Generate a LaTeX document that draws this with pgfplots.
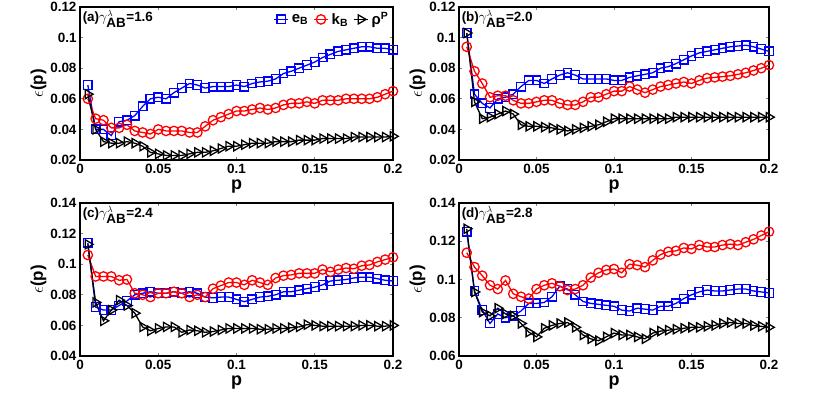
\documentclass[border=0pt]{standalone}
\usepackage{pgfplots}
\pgfplotsset{compat=1.18}
\usepackage{pgfplotstable}
\usepackage{fontspec}
\setmainfont{Liberation Sans}

\pgfplotstableread{
p e k r
0.005 0.069 0.060 0.063
0.010 0.040 0.047 0.040
0.015 0.040 0.046 0.032
0.020 0.036 0.041 0.031
0.025 0.045 0.041 0.031
0.030 0.046 0.043 0.032
0.035 0.049 0.039 0.031
0.040 0.055 0.038 0.029
0.045 0.060 0.037 0.025
0.050 0.061 0.040 0.024
0.055 0.060 0.039 0.023
0.060 0.064 0.039 0.023
0.065 0.067 0.039 0.023
0.070 0.070 0.038 0.024
0.075 0.069 0.038 0.025
0.080 0.067 0.042 0.025
0.085 0.068 0.046 0.026
0.090 0.068 0.048 0.0275
0.095 0.068 0.050 0.029
0.100 0.069 0.052 0.029
0.105 0.068 0.052 0.030
0.110 0.070 0.053 0.031
0.115 0.071 0.054 0.031
0.120 0.0715 0.053 0.031
0.125 0.073 0.054 0.032
0.130 0.0765 0.056 0.032
0.135 0.078 0.057 0.032
0.140 0.080 0.057 0.033
0.145 0.082 0.058 0.033
0.150 0.084 0.057 0.033
0.155 0.087 0.059 0.034
0.160 0.089 0.059 0.034
0.165 0.091 0.059 0.034
0.170 0.092 0.060 0.034
0.175 0.093 0.060 0.035
0.180 0.094 0.060 0.035
0.185 0.094 0.060 0.035
0.190 0.093 0.061 0.035
0.195 0.093 0.063 0.035
0.200 0.092 0.065 0.0355
}\dataA

\pgfplotstableread{
p e k r
0.005 0.103 0.094 0.103
0.010 0.063 0.078 0.058
0.015 0.057 0.070 0.047
0.020 0.054 0.061 0.048
0.025 0.060 0.062 0.050
0.030 0.061 0.062 0.052
0.035 0.063 0.059 0.050
0.040 0.068 0.057 0.043
0.045 0.072 0.057 0.042
0.050 0.072 0.058 0.042
0.055 0.070 0.059 0.0415
0.060 0.073 0.059 0.041
0.065 0.0755 0.057 0.040
0.070 0.077 0.056 0.039
0.075 0.0755 0.056 0.040
0.080 0.073 0.058 0.041
0.085 0.073 0.061 0.042
0.090 0.073 0.061 0.043
0.095 0.073 0.063 0.045
0.100 0.072 0.065 0.047
0.105 0.072 0.065 0.047
0.110 0.074 0.068 0.047
0.115 0.075 0.066 0.047
0.120 0.076 0.064 0.047
0.125 0.077 0.066 0.047
0.130 0.080 0.068 0.047
0.135 0.081 0.069 0.047
0.140 0.083 0.070 0.048
0.145 0.0855 0.071 0.048
0.150 0.088 0.070 0.048
0.155 0.090 0.072 0.048
0.160 0.091 0.0735 0.048
0.165 0.092 0.074 0.048
0.170 0.093 0.0745 0.048
0.175 0.094 0.075 0.048
0.180 0.0945 0.076 0.048
0.185 0.095 0.077 0.048
0.190 0.094 0.0785 0.048
0.195 0.0925 0.080 0.048
0.200 0.091 0.082 0.048
}\dataB

\pgfplotstableread{
p e k r
0.005 0.114 0.106 0.113
0.010 0.072 0.092 0.075
0.015 0.070 0.092 0.063
0.020 0.070 0.092 0.070
0.025 0.073 0.0895 0.0765
0.030 0.076 0.090 0.073
0.035 0.080 0.081 0.068
0.040 0.081 0.080 0.059
0.045 0.082 0.0785 0.0565
0.050 0.081 0.081 0.058
0.055 0.081 0.081 0.059
0.060 0.082 0.082 0.059
0.065 0.081 0.081 0.0555
0.070 0.082 0.0785 0.057
0.075 0.081 0.080 0.0565
0.080 0.0785 0.0785 0.0555
0.085 0.078 0.084 0.056
0.090 0.0785 0.086 0.057
0.095 0.0785 0.088 0.058
0.100 0.077 0.088 0.058
0.105 0.0755 0.0865 0.058
0.110 0.077 0.0895 0.058
0.115 0.0785 0.088 0.0575
0.120 0.079 0.0865 0.0575
0.125 0.080 0.091 0.058
0.130 0.082 0.0925 0.058
0.135 0.082 0.093 0.0585
0.140 0.083 0.094 0.059
0.145 0.084 0.094 0.0605
0.150 0.085 0.094 0.060
0.155 0.0865 0.0965 0.0595
0.160 0.089 0.095 0.0595
0.165 0.0895 0.0965 0.0595
0.170 0.090 0.0975 0.0595
0.175 0.091 0.097 0.0595
0.180 0.0915 0.099 0.060
0.185 0.0915 0.0995 0.060
0.190 0.0905 0.1015 0.0595
0.195 0.0895 0.103 0.0595
0.200 0.089 0.1045 0.060
}\dataC

\pgfplotstableread{
p e k r
0.005 0.125 0.114 0.1265
0.010 0.094 0.1065 0.0935
0.015 0.084 0.102 0.083
0.020 0.077 0.097 0.081
0.025 0.082 0.095 0.085
0.030 0.080 0.0995 0.082
0.035 0.081 0.0925 0.081
0.040 0.0835 0.091 0.077
0.045 0.0875 0.090 0.0725
0.050 0.0875 0.095 0.070
0.055 0.088 0.097 0.0745
0.060 0.091 0.098 0.076
0.065 0.0965 0.0965 0.077
0.070 0.095 0.0945 0.0775
0.075 0.092 0.095 0.075
0.080 0.0885 0.097 0.071
0.085 0.0875 0.101 0.069
0.090 0.087 0.1035 0.068
0.095 0.0865 0.105 0.070
0.100 0.086 0.1055 0.072
0.105 0.084 0.1035 0.071
0.110 0.0835 0.108 0.071
0.115 0.085 0.1075 0.070
0.120 0.0845 0.1065 0.069
0.125 0.084 0.110 0.072
0.130 0.086 0.113 0.073
0.135 0.086 0.1145 0.0735
0.140 0.0875 0.115 0.074
0.145 0.090 0.1165 0.0745
0.150 0.092 0.116 0.075
0.155 0.0935 0.118 0.075
0.160 0.0945 0.117 0.0755
0.165 0.094 0.117 0.076
0.170 0.094 0.118 0.077
0.175 0.0945 0.1185 0.0775
0.180 0.095 0.118 0.077
0.185 0.095 0.1195 0.077
0.190 0.094 0.121 0.076
0.195 0.0935 0.123 0.0755
0.200 0.093 0.125 0.075
}\dataD

\pgfplotsset{
  panel/.style={
    scale only axis, width=313bp, height=153bp, anchor=south west,
    xmin=0, xmax=0.2, xtick={0,0.05,0.1,0.15,0.2},
    axis line style={line width=1.3pt},
    tick align=inside, major tick length=3pt, tick style={line width=0.8pt},
    scaled ticks=false,
    /pgf/number format/assume math mode=true,
    ticklabel style={font=\fontsize{13.5}{13.5}\selectfont\bfseries,
      /pgf/number format/fixed, /pgf/number format/precision=2},
    xticklabel style={yshift=-1pt},
    xlabel={\textbf{p}}, xlabel style={font=\fontsize{18}{18}\selectfont, yshift=1pt},
    ylabel={$\epsilon$\textbf{(p)}}, ylabel style={font=\fontsize{17}{17}\selectfont, yshift=-3pt},
    clip=false,
  },
  se/.style={blue, line width=1.3pt, mark=square, mark size=4.3bp, mark options={solid, fill=none}},
  sk/.style={red, line width=1.3pt, mark=o, mark size=4.7bp, mark options={solid, fill=none}},
  sr/.style={black, line width=1.3pt, mark=triangle, mark size=5.3bp, mark options={solid, fill=none, rotate=-90}},
}
\newcommand{\plab}[2]{\node[anchor=north west, inner sep=1pt, font=\fontsize{13.5}{13.5}\selectfont]
  at (rel axis cs:0.005,0.985) {\textbf{(#1)}$\gamma^{\lambda}_{\textbf{AB}}$\textbf{=#2}};}
\newcommand{\series}[1]{%
  \addplot[se] table[x=p, y=e] {#1};
  \addplot[sk] table[x=p, y=k] {#1};
  \addplot[sr] table[x=p, y=r] {#1};
}

\begin{document}
\begin{tikzpicture}
\begin{axis}[panel, at={(80bp,239bp)}, ymin=0.02, ymax=0.12, ytick={0.02,0.04,...,0.12},
  legend style={draw=none, fill=none, at={(rel axis cs:0.995,0.985)}, anchor=north east,
    font=\fontsize{15}{15}\selectfont\bfseries, legend columns=3,
    /tikz/every odd column/.append style={column sep=1pt},
    /tikz/every even column/.append style={column sep=3pt}, inner sep=1pt},
  legend cell align=left,
  legend image code/.code={\draw[mark repeat=2, mark phase=2] plot coordinates {(0cm,0cm) (0.25cm,0cm) (0.5cm,0cm)};}]
\series{\dataA}
\legend{e$_\mathbf{B}$, k$_\mathbf{B}$, ρ$^\mathbf{P}$}
\plab{a}{1.6}
\end{axis}

\begin{axis}[panel, at={(459bp,239bp)}, width=310bp, ymin=0.02, ymax=0.12, ytick={0.02,0.04,...,0.12}]
\series{\dataB}
\plab{b}{2.0}
\end{axis}

\begin{axis}[panel, at={(80bp,43bp)}, ymin=0.04, ymax=0.14, ytick={0.04,0.06,...,0.14}]
\series{\dataC}
\plab{c}{2.4}
\end{axis}

\begin{axis}[panel, at={(459bp,43bp)}, width=310bp, ymin=0.06, ymax=0.14, ytick={0.06,0.08,...,0.14}]
\series{\dataD}
\plab{d}{2.8}
\end{axis}
\pgfresetboundingbox
\path[use as bounding box] (0,0) rectangle (817bp,399bp);
\end{tikzpicture}
\end{document}
